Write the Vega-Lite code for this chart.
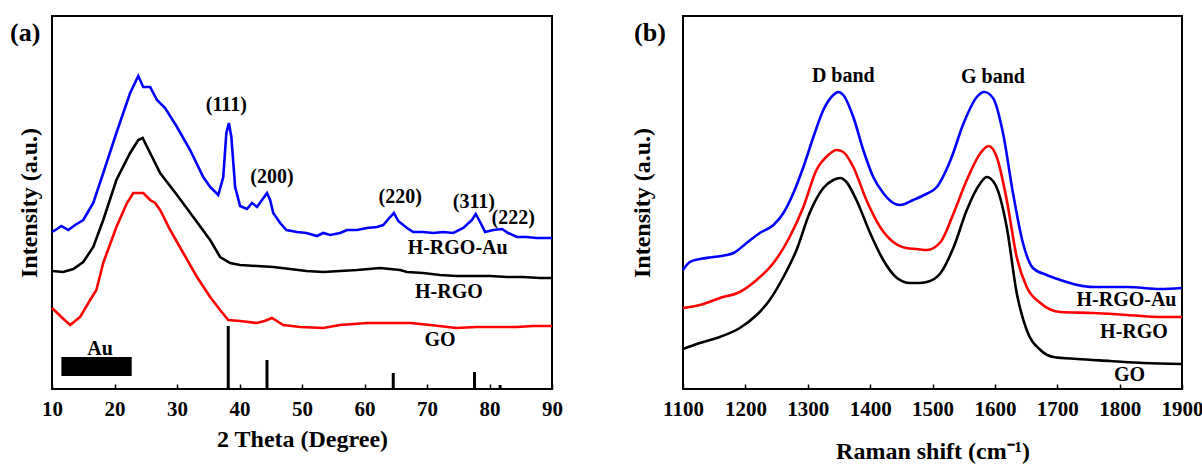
{
  "$schema": "https://vega.github.io/schema/vega-lite/v6.json",
  "padding": {"left": 8, "top": 15, "right": 5, "bottom": 5},
  "spacing": 65,
  "config": {
    "view": {"stroke": "#000000", "strokeWidth": 2},
    "font": "Liberation Serif",
    "axis": {
      "labelFont": "Liberation Serif", "titleFont": "Liberation Serif",
      "labelFontWeight": "bold", "titleFontWeight": "bold",
      "labelColor": "#000000", "titleColor": "#000000",
      "grid": false, "domain": false, "tickColor": "#000000", "tickWidth": 1.5
    }
  },
  "datasets": {
    "xrd": [
      {"s":"H-RGO-Au","t":10.0,"i":157},{"s":"H-RGO-Au","t":10.8,"i":160},{"s":"H-RGO-Au","t":11.5,"i":163},{"s":"H-RGO-Au","t":12.6,"i":159},{"s":"H-RGO-Au","t":13.7,"i":164},{"s":"H-RGO-Au","t":15.0,"i":169},{"s":"H-RGO-Au","t":16.6,"i":186},{"s":"H-RGO-Au","t":18.2,"i":216},{"s":"H-RGO-Au","t":20.3,"i":256},{"s":"H-RGO-Au","t":22.5,"i":296},{"s":"H-RGO-Au","t":23.8,"i":313},{"s":"H-RGO-Au","t":24.6,"i":302},{"s":"H-RGO-Au","t":25.7,"i":302},{"s":"H-RGO-Au","t":26.8,"i":289},{"s":"H-RGO-Au","t":28.1,"i":281},{"s":"H-RGO-Au","t":30.0,"i":262},{"s":"H-RGO-Au","t":32.1,"i":239},{"s":"H-RGO-Au","t":34.2,"i":212},{"s":"H-RGO-Au","t":35.3,"i":202},{"s":"H-RGO-Au","t":36.6,"i":194},{"s":"H-RGO-Au","t":37.4,"i":212},{"s":"H-RGO-Au","t":37.9,"i":256},{"s":"H-RGO-Au","t":38.3,"i":266},{"s":"H-RGO-Au","t":38.7,"i":252},{"s":"H-RGO-Au","t":39.3,"i":202},{"s":"H-RGO-Au","t":40.1,"i":183},{"s":"H-RGO-Au","t":41.2,"i":180},{"s":"H-RGO-Au","t":42.0,"i":186},{"s":"H-RGO-Au","t":42.8,"i":182},{"s":"H-RGO-Au","t":43.6,"i":189},{"s":"H-RGO-Au","t":44.4,"i":196},{"s":"H-RGO-Au","t":44.9,"i":189},{"s":"H-RGO-Au","t":45.4,"i":176},{"s":"H-RGO-Au","t":46.5,"i":166},{"s":"H-RGO-Au","t":47.5,"i":159},{"s":"H-RGO-Au","t":49.2,"i":157},{"s":"H-RGO-Au","t":50.7,"i":156},{"s":"H-RGO-Au","t":52.4,"i":153},{"s":"H-RGO-Au","t":53.4,"i":156},{"s":"H-RGO-Au","t":54.5,"i":154},{"s":"H-RGO-Au","t":56.1,"i":156},{"s":"H-RGO-Au","t":57.2,"i":159},{"s":"H-RGO-Au","t":58.8,"i":159},{"s":"H-RGO-Au","t":60.4,"i":161},{"s":"H-RGO-Au","t":62.0,"i":162},{"s":"H-RGO-Au","t":63.0,"i":164},{"s":"H-RGO-Au","t":64.1,"i":172},{"s":"H-RGO-Au","t":64.7,"i":176},{"s":"H-RGO-Au","t":65.4,"i":168},{"s":"H-RGO-Au","t":66.8,"i":161},{"s":"H-RGO-Au","t":67.8,"i":157},{"s":"H-RGO-Au","t":69.4,"i":157},{"s":"H-RGO-Au","t":71.0,"i":156},{"s":"H-RGO-Au","t":72.6,"i":157},{"s":"H-RGO-Au","t":74.2,"i":156},{"s":"H-RGO-Au","t":75.8,"i":161},{"s":"H-RGO-Au","t":77.2,"i":169},{"s":"H-RGO-Au","t":77.8,"i":175},{"s":"H-RGO-Au","t":78.5,"i":167},{"s":"H-RGO-Au","t":79.3,"i":157},{"s":"H-RGO-Au","t":80.6,"i":159},{"s":"H-RGO-Au","t":82.0,"i":160},{"s":"H-RGO-Au","t":83.0,"i":156},{"s":"H-RGO-Au","t":84.4,"i":152},{"s":"H-RGO-Au","t":85.9,"i":152},{"s":"H-RGO-Au","t":87.5,"i":151},{"s":"H-RGO-Au","t":90.0,"i":151},
      {"s":"H-RGO","t":10.0,"i":118},{"s":"H-RGO","t":11.8,"i":117},{"s":"H-RGO","t":13.4,"i":120},{"s":"H-RGO","t":15.0,"i":127},{"s":"H-RGO","t":16.6,"i":142},{"s":"H-RGO","t":18.2,"i":169},{"s":"H-RGO","t":20.3,"i":209},{"s":"H-RGO","t":22.5,"i":236},{"s":"H-RGO","t":23.8,"i":249},{"s":"H-RGO","t":24.5,"i":251},{"s":"H-RGO","t":25.7,"i":236},{"s":"H-RGO","t":27.3,"i":216},{"s":"H-RGO","t":30.0,"i":194},{"s":"H-RGO","t":32.6,"i":172},{"s":"H-RGO","t":35.3,"i":149},{"s":"H-RGO","t":36.9,"i":132},{"s":"H-RGO","t":38.5,"i":126},{"s":"H-RGO","t":40.1,"i":124},{"s":"H-RGO","t":42.8,"i":123},{"s":"H-RGO","t":45.4,"i":122},{"s":"H-RGO","t":48.1,"i":120},{"s":"H-RGO","t":50.7,"i":118},{"s":"H-RGO","t":53.4,"i":117},{"s":"H-RGO","t":56.1,"i":118},{"s":"H-RGO","t":58.8,"i":119},{"s":"H-RGO","t":62.5,"i":121},{"s":"H-RGO","t":65.7,"i":119},{"s":"H-RGO","t":66.8,"i":117},{"s":"H-RGO","t":69.4,"i":116},{"s":"H-RGO","t":72.1,"i":114},{"s":"H-RGO","t":74.7,"i":113},{"s":"H-RGO","t":77.4,"i":113},{"s":"H-RGO","t":80.1,"i":113},{"s":"H-RGO","t":82.8,"i":112},{"s":"H-RGO","t":85.4,"i":112},{"s":"H-RGO","t":88.1,"i":111},{"s":"H-RGO","t":90.0,"i":111},
      {"s":"GO","t":10.0,"i":81},{"s":"GO","t":11.5,"i":72},{"s":"GO","t":12.9,"i":64},{"s":"GO","t":14.5,"i":72},{"s":"GO","t":16.1,"i":89},{"s":"GO","t":17.1,"i":99},{"s":"GO","t":18.2,"i":126},{"s":"GO","t":20.3,"i":162},{"s":"GO","t":22.0,"i":186},{"s":"GO","t":23.0,"i":196},{"s":"GO","t":24.6,"i":196},{"s":"GO","t":25.7,"i":189},{"s":"GO","t":26.5,"i":186},{"s":"GO","t":27.3,"i":179},{"s":"GO","t":28.9,"i":159},{"s":"GO","t":31.0,"i":136},{"s":"GO","t":33.2,"i":112},{"s":"GO","t":35.3,"i":92},{"s":"GO","t":36.9,"i":79},{"s":"GO","t":38.2,"i":69},{"s":"GO","t":40.1,"i":68},{"s":"GO","t":42.8,"i":66},{"s":"GO","t":44.0,"i":68},{"s":"GO","t":45.2,"i":71},{"s":"GO","t":47.0,"i":64},{"s":"GO","t":49.7,"i":62},{"s":"GO","t":53.4,"i":61},{"s":"GO","t":56.1,"i":64},{"s":"GO","t":60.4,"i":66},{"s":"GO","t":64.7,"i":66},{"s":"GO","t":67.4,"i":66},{"s":"GO","t":70.5,"i":64},{"s":"GO","t":74.7,"i":61},{"s":"GO","t":77.9,"i":62},{"s":"GO","t":81.7,"i":62},{"s":"GO","t":84.4,"i":62},{"s":"GO","t":87.0,"i":63},{"s":"GO","t":90.0,"i":63}
    ],
    "raman": [
      {"s":"H-RGO-Au","r":1100,"i":119},{"s":"H-RGO-Au","r":1111,"i":127},{"s":"H-RGO-Au","r":1127,"i":130},{"s":"H-RGO-Au","r":1149,"i":132},{"s":"H-RGO-Au","r":1170,"i":134},{"s":"H-RGO-Au","r":1181,"i":136},{"s":"H-RGO-Au","r":1202,"i":146},{"s":"H-RGO-Au","r":1223,"i":156},{"s":"H-RGO-Au","r":1245,"i":164},{"s":"H-RGO-Au","r":1261,"i":176},{"s":"H-RGO-Au","r":1277,"i":196},{"s":"H-RGO-Au","r":1293,"i":222},{"s":"H-RGO-Au","r":1309,"i":252},{"s":"H-RGO-Au","r":1325,"i":279},{"s":"H-RGO-Au","r":1341,"i":294},{"s":"H-RGO-Au","r":1349,"i":297},{"s":"H-RGO-Au","r":1357,"i":294},{"s":"H-RGO-Au","r":1373,"i":272},{"s":"H-RGO-Au","r":1389,"i":239},{"s":"H-RGO-Au","r":1405,"i":212},{"s":"H-RGO-Au","r":1421,"i":196},{"s":"H-RGO-Au","r":1437,"i":186},{"s":"H-RGO-Au","r":1448,"i":184},{"s":"H-RGO-Au","r":1469,"i":189},{"s":"H-RGO-Au","r":1490,"i":195},{"s":"H-RGO-Au","r":1507,"i":202},{"s":"H-RGO-Au","r":1529,"i":229},{"s":"H-RGO-Au","r":1550,"i":266},{"s":"H-RGO-Au","r":1571,"i":292},{"s":"H-RGO-Au","r":1583,"i":297},{"s":"H-RGO-Au","r":1597,"i":291},{"s":"H-RGO-Au","r":1613,"i":256},{"s":"H-RGO-Au","r":1629,"i":196},{"s":"H-RGO-Au","r":1645,"i":146},{"s":"H-RGO-Au","r":1661,"i":121},{"s":"H-RGO-Au","r":1683,"i":114},{"s":"H-RGO-Au","r":1705,"i":109},{"s":"H-RGO-Au","r":1732,"i":104},{"s":"H-RGO-Au","r":1758,"i":102},{"s":"H-RGO-Au","r":1812,"i":102},{"s":"H-RGO-Au","r":1865,"i":100},{"s":"H-RGO-Au","r":1900,"i":101},
      {"s":"H-RGO","r":1100,"i":81},{"s":"H-RGO","r":1127,"i":84},{"s":"H-RGO","r":1159,"i":91},{"s":"H-RGO","r":1191,"i":97},{"s":"H-RGO","r":1218,"i":109},{"s":"H-RGO","r":1245,"i":126},{"s":"H-RGO","r":1271,"i":152},{"s":"H-RGO","r":1293,"i":182},{"s":"H-RGO","r":1314,"i":219},{"s":"H-RGO","r":1333,"i":234},{"s":"H-RGO","r":1346,"i":239},{"s":"H-RGO","r":1357,"i":237},{"s":"H-RGO","r":1373,"i":222},{"s":"H-RGO","r":1394,"i":189},{"s":"H-RGO","r":1416,"i":162},{"s":"H-RGO","r":1437,"i":147},{"s":"H-RGO","r":1458,"i":141},{"s":"H-RGO","r":1475,"i":140},{"s":"H-RGO","r":1491,"i":139},{"s":"H-RGO","r":1513,"i":147},{"s":"H-RGO","r":1534,"i":176},{"s":"H-RGO","r":1555,"i":209},{"s":"H-RGO","r":1577,"i":236},{"s":"H-RGO","r":1590,"i":243},{"s":"H-RGO","r":1603,"i":232},{"s":"H-RGO","r":1619,"i":189},{"s":"H-RGO","r":1635,"i":132},{"s":"H-RGO","r":1651,"i":102},{"s":"H-RGO","r":1673,"i":86},{"s":"H-RGO","r":1705,"i":77},{"s":"H-RGO","r":1758,"i":76},{"s":"H-RGO","r":1812,"i":74},{"s":"H-RGO","r":1865,"i":72},{"s":"H-RGO","r":1900,"i":72},
      {"s":"GO","r":1100,"i":40},{"s":"GO","r":1127,"i":46},{"s":"GO","r":1159,"i":52},{"s":"GO","r":1191,"i":61},{"s":"GO","r":1218,"i":74},{"s":"GO","r":1239,"i":89},{"s":"GO","r":1261,"i":112},{"s":"GO","r":1282,"i":139},{"s":"GO","r":1303,"i":176},{"s":"GO","r":1325,"i":201},{"s":"GO","r":1341,"i":209},{"s":"GO","r":1352,"i":211},{"s":"GO","r":1362,"i":207},{"s":"GO","r":1378,"i":189},{"s":"GO","r":1400,"i":156},{"s":"GO","r":1421,"i":129},{"s":"GO","r":1443,"i":111},{"s":"GO","r":1464,"i":106},{"s":"GO","r":1478,"i":106},{"s":"GO","r":1491,"i":107},{"s":"GO","r":1513,"i":116},{"s":"GO","r":1534,"i":142},{"s":"GO","r":1555,"i":179},{"s":"GO","r":1577,"i":206},{"s":"GO","r":1587,"i":212},{"s":"GO","r":1601,"i":204},{"s":"GO","r":1619,"i":162},{"s":"GO","r":1635,"i":96},{"s":"GO","r":1651,"i":59},{"s":"GO","r":1673,"i":39},{"s":"GO","r":1694,"i":32},{"s":"GO","r":1732,"i":30},{"s":"GO","r":1785,"i":28},{"s":"GO","r":1838,"i":26},{"s":"GO","r":1900,"i":25}
    ],
    "sticks": [
      {"t":38.2,"h":63},{"t":44.4,"h":29},{"t":64.6,"h":16},{"t":77.6,"h":17},{"t":81.7,"h":4}
    ],
    "aubar": [{"x1":11.5,"x2":22.75,"y1":13,"y2":32}],
    "labA": [
      {"label":"(111)","t":37.9,"i":284},
      {"label":"(200)","t":45.2,"i":212},
      {"label":"(220)","t":65.7,"i":192},
      {"label":"(311)","t":77.5,"i":187},
      {"label":"(222)","t":83.8,"i":171},
      {"label":"H-RGO-Au","t":74.9,"i":141},
      {"label":"H-RGO","t":73.5,"i":97},
      {"label":"GO","t":72.1,"i":49},
      {"label":"Au","t":17.7,"i":40}
    ],
    "labB": [
      {"label":"D band","r":1357,"i":313},
      {"label":"G band","r":1597,"i":312},
      {"label":"H-RGO-Au","r":1811,"i":89},
      {"label":"H-RGO","r":1823,"i":57},
      {"label":"GO","r":1816,"i":14}
    ],
    "tagA": [{"label":"(a)","t":5.7,"i":356}],
    "tagB": [{"label":"(b)","r":1047,"i":356}]
  },
  "resolve": {"scale": {"x": "independent", "y": "independent", "color": "independent"}},
  "hconcat": [
    {
      "width": 500, "height": 373,
      "layer": [
        {
          "data": {"name": "xrd"},
          "mark": {"type": "line", "strokeWidth": 2.6},
          "encoding": {
            "x": {"field": "t", "type": "quantitative", "scale": {"domain": [10, 90], "nice": false, "zero": false},
              "axis": {"title": "2 Theta (Degree)", "values": [10,15,20,25,30,35,40,45,50,55,60,65,70,75,80,85,90],
                "labelExpr": "datum.value % 10 === 0 ? datum.label : ''", "tickSize": -5, "labelPadding": 14,
                "labelFontSize": 21, "titleFontSize": 24, "titlePadding": 8, "labelFlush": false, "labelOverlap": false}},
            "y": {"field": "i", "type": "quantitative", "scale": {"domain": [0, 373], "nice": false},
              "axis": {"title": "Intensity (a.u.)", "ticks": false, "labels": false, "titleFontSize": 24, "titlePadding": 11}},
            "color": {"field": "s", "type": "nominal", "scale": {"domain": ["H-RGO-Au", "H-RGO", "GO"], "range": ["#0000ff", "#000000", "#ff0000"]}, "legend": null}
          }
        },
        {
          "data": {"name": "sticks"},
          "mark": {"type": "rule", "strokeWidth": 3, "color": "#000000"},
          "encoding": {
            "x": {"field": "t", "type": "quantitative"},
            "y": {"field": "h", "type": "quantitative"},
            "y2": {"datum": 0}
          }
        },
        {
          "data": {"name": "aubar"},
          "mark": {"type": "rect", "color": "#000000"},
          "encoding": {
            "x": {"field": "x1", "type": "quantitative"}, "x2": {"field": "x2"},
            "y": {"field": "y1", "type": "quantitative"}, "y2": {"field": "y2"}
          }
        },
        {
          "data": {"name": "labA"},
          "mark": {"type": "text", "font": "Liberation Serif", "fontWeight": "bold", "fontSize": 20, "color": "#000000"},
          "encoding": {
            "x": {"field": "t", "type": "quantitative"},
            "y": {"field": "i", "type": "quantitative"},
            "text": {"field": "label"}
          }
        },
        {
          "data": {"name": "tagA"},
          "mark": {"type": "text", "font": "Liberation Serif", "fontWeight": "bold", "fontSize": 26, "color": "#000000"},
          "encoding": {
            "x": {"field": "t", "type": "quantitative"},
            "y": {"field": "i", "type": "quantitative"},
            "text": {"field": "label"}
          }
        }
      ]
    },
    {
      "width": 499, "height": 373,
      "layer": [
        {
          "data": {"name": "raman"},
          "mark": {"type": "line", "strokeWidth": 2.6, "interpolate": "monotone"},
          "encoding": {
            "x": {"field": "r", "type": "quantitative", "scale": {"domain": [1100, 1900], "nice": false, "zero": false},
              "axis": {"title": "Raman shift (cm⁻¹)", "values": [1100,1200,1300,1400,1500,1600,1700,1800,1900], "format": "d",
                "tickSize": -5, "labelPadding": 14, "labelFontSize": 21, "titleFontSize": 24, "titlePadding": 20,
                "labelFlush": false, "labelOverlap": false}},
            "y": {"field": "i", "type": "quantitative", "scale": {"domain": [0, 373], "nice": false},
              "axis": {"title": "Intensity (a.u.)", "ticks": false, "labels": false, "titleFontSize": 24, "titlePadding": 29}},
            "color": {"field": "s", "type": "nominal", "scale": {"domain": ["H-RGO-Au", "H-RGO", "GO"], "range": ["#0000ff", "#ff0000", "#000000"]}, "legend": null}
          }
        },
        {
          "data": {"name": "labB"},
          "mark": {"type": "text", "font": "Liberation Serif", "fontWeight": "bold", "fontSize": 20, "color": "#000000"},
          "encoding": {
            "x": {"field": "r", "type": "quantitative"},
            "y": {"field": "i", "type": "quantitative"},
            "text": {"field": "label"}
          }
        },
        {
          "data": {"name": "tagB"},
          "mark": {"type": "text", "font": "Liberation Serif", "fontWeight": "bold", "fontSize": 26, "color": "#000000"},
          "encoding": {
            "x": {"field": "r", "type": "quantitative"},
            "y": {"field": "i", "type": "quantitative"},
            "text": {"field": "label"}
          }
        }
      ]
    }
  ]
}
